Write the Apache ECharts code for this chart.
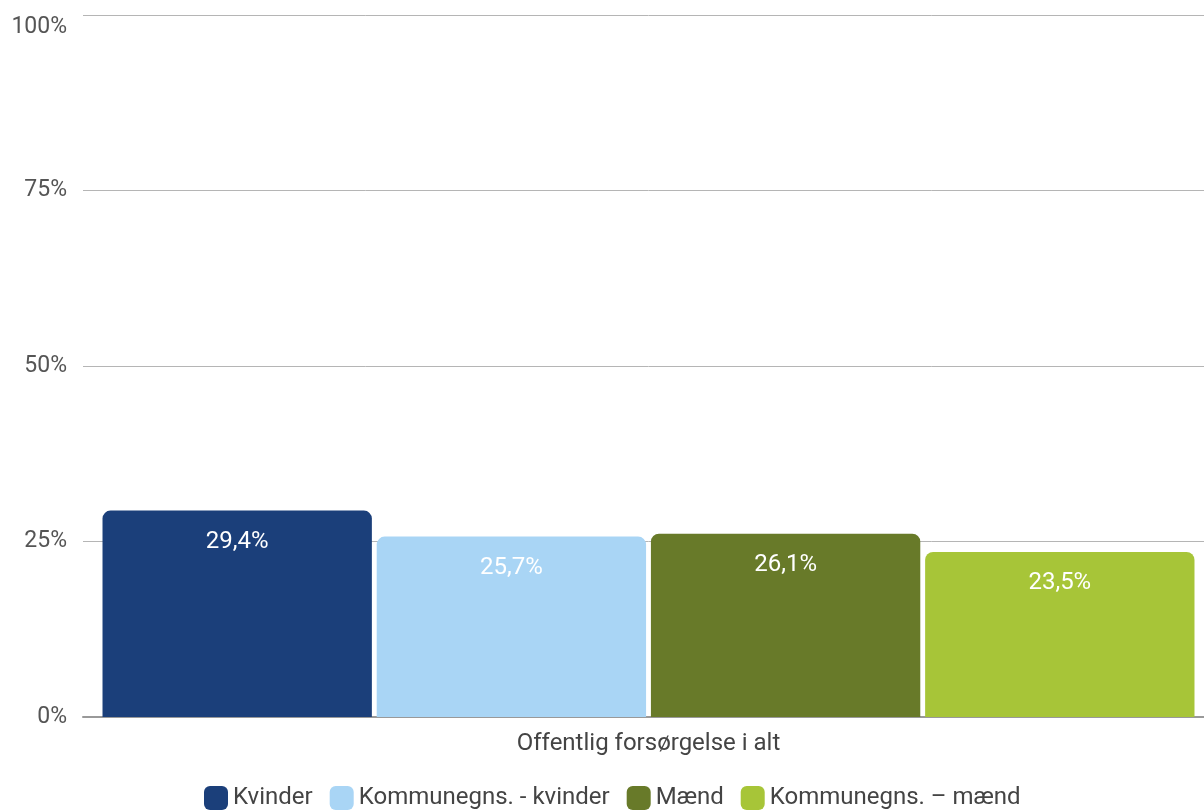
<!DOCTYPE html>
<html>
<head>
<meta charset="utf-8">
<script src="https://cdn.jsdelivr.net/npm/echarts@6/dist/echarts.min.js"></script>
<style>
    html, body { margin: 0; padding: 0; background: #fff; overflow: hidden; }
    #chart { width: 1214px; height: 810px; }
</style>
</head>
<body>
<div id="chart"></div>
<script>
const categories = ['Offentlig forsørgelse i alt']
const seriesNames = ['Kvinder', 'Kommunegns. - kvinder', 'Mænd', 'Kommunegns. – mænd']
const seriesValues = [[29.4], [25.7], [26.1], [23.5]]
const seriesColors = ['#1b3f7a', '#a9d5f5', '#687a29', '#a7c538']

const chart = echarts.init(document.getElementById('chart'))

// søjler med værdi-label øverst inde i søjlen
const series = seriesNames.map((name, i) => ({
    name: name,
    type: 'bar',
    data: seriesValues[i],
    barGap: '1.8%',
    barCategoryGap: '3.45%',
    itemStyle: {
        color: seriesColors[i],
        borderRadius: [8, 8, 0, 0]
    },
    label: {
        show: true,
        position: 'insideTop',
        distance: 19,
        color: '#fff',
        fontSize: 24,
        fontFamily: 'Roboto',
        formatter: p => p.value.toFixed(1).replace('.', ',') + '%'
    }
}))

const option = {
    animation: false,
    textStyle: {fontFamily: 'Roboto'},
    grid: {
        left: 83,
        right: 0,
        top: 15,
        bottom: 93
    },
    legend: {
        bottom: -5,
        left: 199,
        icon: 'roundRect',
        itemWidth: 24,
        itemHeight: 24,
        itemGap: 17,
        textStyle: {fontSize: 24, color: '#444', fontFamily: 'Roboto'}
    },
    xAxis: {
        type: 'category',
        data: categories,
        axisTick: {show: false},
        axisLine: {lineStyle: {color: '#999', width: 2}},
        axisLabel: {fontSize: 24, color: '#444', margin: 15}
    },
    yAxis: {
        type: 'value',
        min: 0,
        max: 100,
        interval: 25,
        axisLabel: {
            fontSize: 23,
            color: '#555',
            margin: 16,
            formatter: v => v === 100 ? '{top|100%}' : v + '%',
            rich: {
                top: {fontSize: 23, color: '#555', padding: [24, 0, 0, 0]}
            }
        },
        splitLine: {lineStyle: {color: '#b5b5b5'}}
    },
    series: series
}

chart.setOption(option)
</script>
</body>
</html>
